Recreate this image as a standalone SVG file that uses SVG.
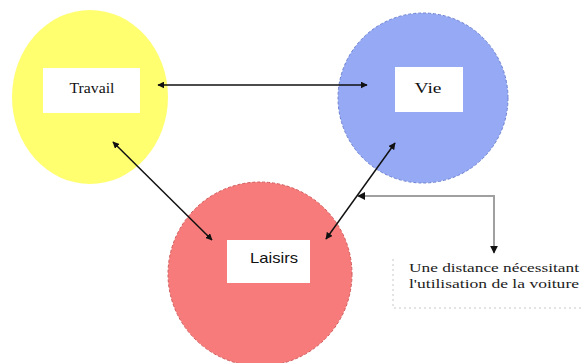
<svg xmlns="http://www.w3.org/2000/svg" width="581" height="363" viewBox="0 0 581 363">
<style>
.box{fill:#ffffff;}
.conn{stroke:#111;stroke-width:1.5;fill:none;}
.gray{stroke:#a0a0a0;stroke-width:2;fill:none;}
.serif{font-family:'Liberation Serif','Times New Roman',Times,'DejaVu Serif',serif;}
</style>
<defs>
<marker id="ah" viewBox="0 0 10 10" refX="9" refY="5" markerWidth="7" markerHeight="7" markerUnits="userSpaceOnUse" orient="auto-start-reverse">
<path d="M0,0 L10,5 L0,10 z" fill="#111"/>
</marker>
<marker id="ah2" viewBox="0 0 10 10" refX="9" refY="5" markerWidth="8" markerHeight="8" markerUnits="userSpaceOnUse" orient="auto-start-reverse">
<path d="M0,0 L10,5 L0,10 z" fill="#111"/>
</marker>
</defs>
<rect width="581" height="363" fill="#ffffff"/>
<g id="travail">
<ellipse cx="90" cy="97" rx="78" ry="87" fill="#ffff70"/>
<rect class="box" x="43" y="68" width="97" height="45"/>
<text class="serif" x="92" y="93" text-anchor="middle" font-size="15" fill="#111" textLength="45" lengthAdjust="spacingAndGlyphs">Travail</text>
</g>
<g id="vie">
<circle cx="423" cy="98" r="85" fill="#95a9f5" stroke="#6a7fd0" stroke-width="1" stroke-dasharray="3,2"/>
<rect class="box" x="395" y="67" width="68" height="45"/>
<text class="serif" x="428" y="93" text-anchor="middle" font-size="15" fill="#111" textLength="27" lengthAdjust="spacingAndGlyphs">Vie</text>
</g>
<g id="laisirs">
<circle cx="260" cy="274" r="92" fill="#f77b7b" stroke="#d05a5a" stroke-width="1" stroke-dasharray="3,2"/>
<rect class="box" x="227" y="240" width="83" height="43"/>
<text x="274" y="263" text-anchor="middle" font-family="'Liberation Sans', Arial, sans-serif" font-size="15" fill="#111" textLength="48" lengthAdjust="spacingAndGlyphs">Laisirs</text>
</g>
<g id="note">
<path d="M393,259 V308 H581" fill="none" stroke="#c8c8c8" stroke-width="1" stroke-dasharray="2,3"/>
<text class="serif" x="409" y="272" font-size="12" fill="#222" textLength="170" lengthAdjust="spacingAndGlyphs">Une distance nécessitant</text>
<text class="serif" x="409" y="288" font-size="12" fill="#222" textLength="170" lengthAdjust="spacingAndGlyphs">l'utilisation de la voiture</text>
</g>
<g id="connectors">
<line class="conn" x1="158" y1="85" x2="367" y2="85" marker-start="url(#ah)" marker-end="url(#ah)"/>
<line class="conn" x1="113" y1="142" x2="212" y2="240" marker-start="url(#ah)" marker-end="url(#ah)"/>
<line class="conn" x1="395" y1="143" x2="326" y2="239" marker-start="url(#ah)" marker-end="url(#ah)"/>
<path class="gray" d="M358,196 H494 V253" marker-start="url(#ah2)" marker-end="url(#ah2)"/>
</g>
</svg>
